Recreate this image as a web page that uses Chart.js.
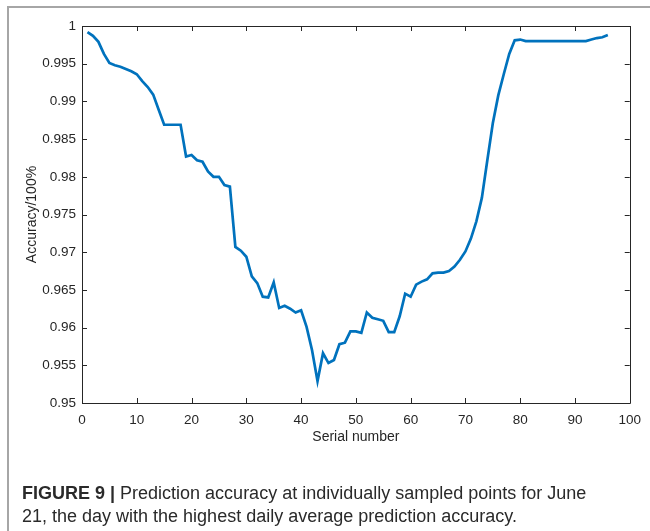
<!DOCTYPE html>
<html>
<head>
<meta charset="utf-8">
<script src="https://cdn.jsdelivr.net/npm/chart.js@4.4.0/dist/chart.umd.min.js"></script>
<style>
  html, body { margin: 0; padding: 0; background: #fff; }
  #wrap { position: relative; width: 650px; height: 531px; overflow: hidden; }
  #chart { position: absolute; left: 0; top: 0; }
  .frame-top { position: absolute; left: 8px; top: 6px; width: 642px; height: 2px; background: #a6a6a6; }
  .frame-left { position: absolute; left: 7px; top: 6px; width: 2px; height: 525px; background: #a6a6a6; }
  #caption {
    position: absolute; left: 22px; top: 482px; width: 625px; white-space: nowrap;
    font-family: "Liberation Sans", Arial, sans-serif; font-size: 18px; line-height: 23px; color: #2a2a2a;
  }
  #caption b { font-weight: bold; }
</style>
</head>
<body>
<div id="wrap">
  <canvas id="chart" width="650" height="531"></canvas>
  <div class="frame-top"></div>
  <div class="frame-left"></div>
  <div id="caption"><b>FIGURE 9 |</b> Prediction accuracy at individually sampled points for June<br>21, the day with the highest daily average prediction accuracy.</div>
</div>
<script>
// serial number of each sampled point (15 min steps over the day)
const serialNumbers = [
  1, 2, 3, 4, 5, 6, 7, 8, 9, 10, 11, 12, 13, 14, 15, 16,
  17, 18, 19, 20, 21, 22, 23, 24, 25, 26, 27, 28, 29, 30, 31, 32,
  33, 34, 35, 36, 37, 38, 39, 40, 41, 42, 43, 44, 45, 46, 47, 48,
  49, 50, 51, 52, 53, 54, 55, 56, 57, 58, 59, 60, 61, 62, 63, 64,
  65, 66, 67, 68, 69, 70, 71, 72, 73, 74, 75, 76, 77, 78, 79, 80,
  81, 82, 83, 84, 85, 86, 87, 88, 89, 90, 91, 92, 93, 94, 95, 96
];

const accuracy = [
  0.9992, 0.9987, 0.9979, 0.9963, 0.9951, 0.9948, 0.9946, 0.9943,
  0.9940, 0.9936, 0.9927, 0.9919, 0.9909, 0.9889, 0.9869, 0.9869,
  0.9869, 0.9869, 0.9827, 0.9829, 0.9822, 0.9820, 0.9807, 0.9800,
  0.9800, 0.9789, 0.9787, 0.9707, 0.9702, 0.9694, 0.9668, 0.9659,
  0.9641, 0.9640, 0.9660, 0.9626, 0.9629, 0.9625, 0.9620, 0.9623,
  0.9601, 0.9570, 0.9529, 0.9566, 0.9553, 0.9557, 0.9578, 0.9580,
  0.9595, 0.9595, 0.9593, 0.9620, 0.9613, 0.9611, 0.9609, 0.9594,
  0.9594, 0.9615, 0.9645, 0.9641, 0.9657, 0.9661, 0.9664, 0.9672,
  0.9673, 0.9673, 0.9675, 0.9681, 0.9690, 0.9701, 0.9718, 0.9741,
  0.9772, 0.9822, 0.9871, 0.9908, 0.9936, 0.9963, 0.9981, 0.9982,
  0.9980, 0.9980, 0.9980, 0.9980, 0.9980, 0.9980, 0.9980, 0.9980,
  0.9980, 0.9980, 0.9980, 0.9980, 0.9982, 0.9984, 0.9985, 0.9988
];

const xTicks = [0, 10, 20, 30, 40, 50, 60, 70, 80, 90, 100];
const yTicks = [0.95, 0.955, 0.96, 0.965, 0.97, 0.975, 0.98, 0.985, 0.99, 0.995, 1];

const axisColor = '#262626';
const fontFamily = '"Liberation Sans", Arial, sans-serif';

// MATLAB style box with inward ticks on all four sides
const boxPlugin = {
  id: 'matlabBox',
  beforeDatasetsDraw(chart) {
    const { ctx, chartArea: a, scales } = chart;
    const tl = 5;
    ctx.save();
    ctx.strokeStyle = axisColor;
    ctx.lineWidth = 1;
    ctx.beginPath();
    ctx.rect(Math.round(a.left) + 0.5, Math.round(a.top) + 0.5,
      Math.round(a.right - a.left), Math.round(a.bottom - a.top));
    xTicks.forEach(v => {
      const px = Math.round(scales.x.getPixelForValue(v)) + 0.5;
      ctx.moveTo(px, a.bottom); ctx.lineTo(px, a.bottom - tl);
      ctx.moveTo(px, a.top); ctx.lineTo(px, a.top + tl);
    });
    yTicks.forEach(v => {
      const py = Math.round(scales.y.getPixelForValue(v)) + 0.5;
      ctx.moveTo(a.left, py); ctx.lineTo(a.left + tl, py);
      ctx.moveTo(a.right, py); ctx.lineTo(a.right - tl, py);
    });
    ctx.stroke();
    ctx.restore();
  }
};

new Chart(document.getElementById('chart'), {
  type: 'line',
  data: {
    datasets: [{
      data: serialNumbers.map((s, i) => ({ x: s, y: accuracy[i] })),
      borderColor: '#0072BD',
      borderWidth: 2.7,
      pointRadius: 0,
      tension: 0,
      fill: false
    }]
  },
  options: {
    responsive: false,
    animation: false,
    devicePixelRatio: 1,
    layout: { padding: { left: 20, top: 26, right: 16, bottom: 78 } },
    plugins: { legend: { display: false }, tooltip: { enabled: false } },
    scales: {
      x: {
        type: 'linear',
        min: 0, max: 100,
        afterFit: s => { s.height = 50; },
        afterBuildTicks: s => { s.ticks = xTicks.map(v => ({ value: v })); },
        grid: { display: false, drawTicks: false },
        border: { display: false },
        ticks: { padding: 9, color: axisColor, font: { family: fontFamily, size: 13.5 } },
        title: {
          display: true, text: 'Serial number', color: axisColor,
          padding: { top: 0, bottom: 7 },
          font: { family: fontFamily, size: 14 }
        }
      },
      y: {
        min: 0.95, max: 1,
        afterFit: s => { s.width = 62; },
        afterBuildTicks: s => { s.ticks = yTicks.map(v => ({ value: v })); },
        grid: { display: false, drawTicks: false },
        border: { display: false },
        ticks: {
          padding: 6, color: axisColor, font: { family: fontFamily, size: 13.5 },
          callback: v => String(+v.toFixed(3))
        },
        title: {
          display: true, text: 'Accuracy/100%', color: axisColor,
          padding: { top: 4, bottom: 0 },
          font: { family: fontFamily, size: 14 }
        }
      }
    }
  },
  plugins: [boxPlugin]
});
</script>
</body>
</html>
